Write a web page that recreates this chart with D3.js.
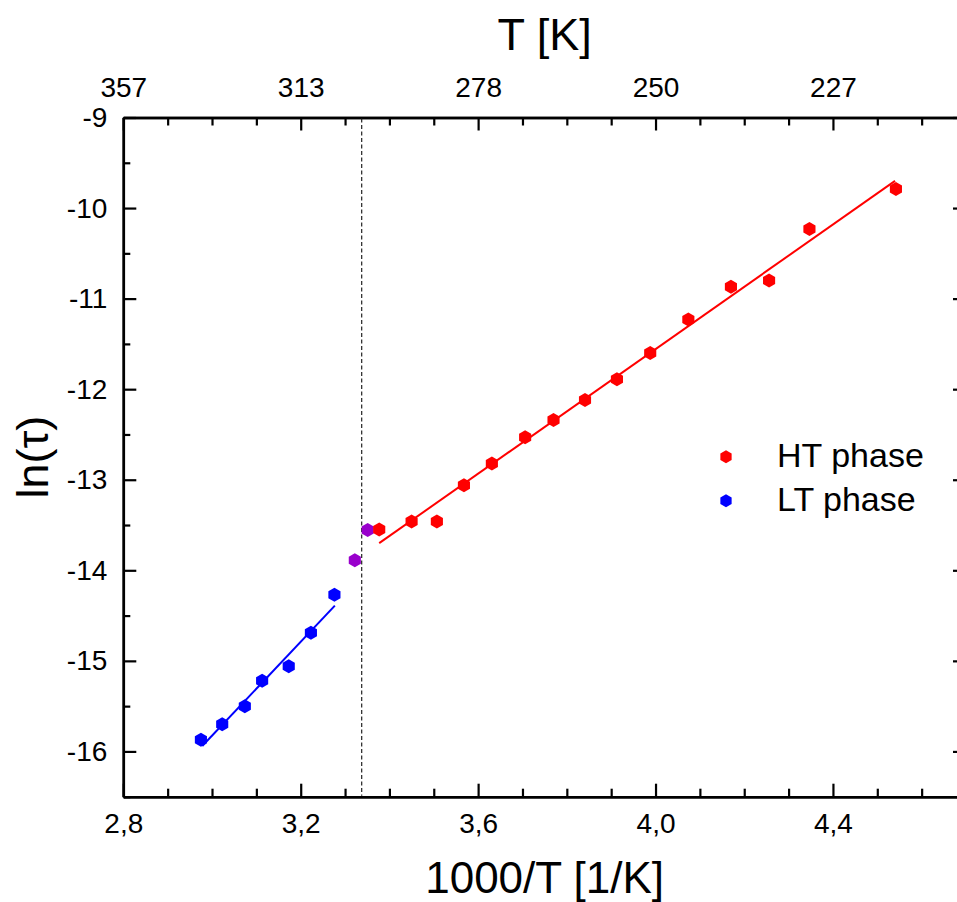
<!DOCTYPE html>
<html>
<head>
<meta charset="utf-8">
<script src="https://cdn.jsdelivr.net/npm/d3@7"></script>
<style>
  html, body { margin: 0; padding: 0; background: #fff; }
  svg { display: block; font-family: "Liberation Sans", Arial, sans-serif; }
</style>
</head>
<body>
<svg id="chart" width="957" height="902"></svg>
<script>
// Relaxation time vs inverse temperature (Arrhenius plot)
const htX = [3.377, 3.450, 3.507, 3.568, 3.631, 3.706, 3.770, 3.841, 3.913, 3.988, 4.074, 4.170, 4.256, 4.347, 4.542];
const htY = [-13.55, -13.46, -13.46, -13.06, -12.82, -12.53, -12.34, -12.12, -11.89, -11.60, -11.23, -10.87, -10.80, -10.23, -9.79];
const ltX = [2.975, 3.023, 3.074, 3.113, 3.173, 3.223, 3.276];
const ltY = [-15.87, -15.70, -15.50, -15.22, -15.06, -14.69, -14.27];
const midX = [3.322, 3.351];
const midY = [-13.89, -13.555];

// Linear (Arrhenius) fits, endpoints
const htFitX = [3.377, 4.540];
const htFitY = [-13.70, -9.70];
const ltFitX = [2.978, 3.277];
const ltFitY = [-15.94, -14.39];

// Phase transition position
const transitionX = [3.3375];

// Axis ticks
const bottomTicks = [2.8, 3.2, 3.6, 4.0, 4.4];
const topTickLabels = ["357", "313", "278", "250", "227"];
const leftTicks = [-9, -10, -11, -12, -13, -14, -15, -16];

const legendLabels = ["HT phase", "LT phase"];
const colors = { ht: "#ff0000", lt: "#0000ff", mid: "#9900cc" };

const svg = d3.select("#chart");
const plotL = 123.3, plotR = 966, plotT = 117.5, plotB = 796.7;

const x = d3.scaleLinear().domain([2.8, 4.7]).range([plotL, plotR]);
const y = d3.scaleLinear().domain([-16.5, -9]).range([plotB, plotT]);

const fmtComma = v => d3.format(".1f")(v).replace(".", ",");
const minorX = d3.range(28, 48).map(v => v / 10).filter(v => !bottomTicks.some(t => Math.abs(t - v) < 1e-9));
const minorY = d3.range(-16.5, -9, 1);

// Axis frame
function drawAxis(gen, transform, cls) {
  const g = svg.append("g").attr("class", cls).attr("transform", transform).call(gen);
  g.attr("font-size", 28).attr("font-family", "'Liberation Sans', Arial, sans-serif");
  g.select(".domain").attr("stroke", "#000").attr("stroke-width", 2.5);
  g.selectAll(".tick line").attr("stroke", "#000").attr("stroke-width", 2.2);
  g.selectAll("text").attr("fill", "#000").style("font-size", "28px");
  return g;
}

// bottom
drawAxis(d3.axisBottom(x).tickValues(bottomTicks).tickFormat(fmtComma).tickSizeInner(-13).tickSizeOuter(0).tickPadding(16),
  `translate(0,${plotB})`, "x-bottom");
drawAxis(d3.axisBottom(x).tickValues(minorX).tickFormat("").tickSizeInner(-8).tickSizeOuter(0),
  `translate(0,${plotB})`, "x-bottom-minor");
// top
drawAxis(d3.axisTop(x).tickValues(bottomTicks).tickFormat((d, i) => topTickLabels[i]).tickSizeInner(-13).tickSizeOuter(0).tickPadding(21),
  `translate(0,${plotT})`, "x-top");
drawAxis(d3.axisTop(x).tickValues(minorX).tickFormat("").tickSizeInner(-8).tickSizeOuter(0),
  `translate(0,${plotT})`, "x-top-minor");
// left
drawAxis(d3.axisLeft(y).tickValues(leftTicks).tickFormat(d => String(d)).tickSizeInner(-13).tickSizeOuter(0).tickPadding(16),
  `translate(${plotL},0)`, "y-left");
drawAxis(d3.axisLeft(y).tickValues(minorY).tickFormat("").tickSizeInner(-7).tickSizeOuter(0),
  `translate(${plotL},0)`, "y-left-minor");
// right
drawAxis(d3.axisRight(y).tickValues(leftTicks).tickFormat("").tickSizeInner(-13).tickSizeOuter(0),
  `translate(${plotR},0)`, "y-right");
drawAxis(d3.axisRight(y).tickValues(minorY).tickFormat("").tickSizeInner(-7).tickSizeOuter(0),
  `translate(${plotR},0)`, "y-right-minor");

// Axis titles
svg.append("text").attr("x", (plotL + plotR) / 2).attr("y", 50)
  .attr("text-anchor", "middle").attr("font-size", 45).text("T [K]");
svg.append("text").attr("x", (plotL + plotR) / 2).attr("y", 893)
  .attr("text-anchor", "middle").attr("font-size", 44).text("1000/T [1/K]");
svg.append("text").attr("transform", `translate(48,${(plotT + plotB) / 2}) rotate(-90)`)
  .attr("text-anchor", "middle").attr("font-size", 45).text("ln(τ)");

// Transition marker
svg.selectAll(".transition").data(transitionX).join("line")
  .attr("class", "transition")
  .attr("x1", d => x(d)).attr("x2", d => x(d))
  .attr("y1", plotT + 1).attr("y2", plotB - 1)
  .attr("stroke", "#222").attr("stroke-width", 1.2).attr("stroke-dasharray", "4,2.5");

// Fit lines
const line = d3.line().x(d => x(d[0])).y(d => y(d[1]));
svg.append("path").datum(d3.zip(htFitX, htFitY)).attr("d", line)
  .attr("fill", "none").attr("stroke", colors.ht).attr("stroke-width", 2);
svg.append("path").datum(d3.zip(ltFitX, ltFitY)).attr("d", line)
  .attr("fill", "none").attr("stroke", colors.lt).attr("stroke-width", 2);

// Pointy-top hexagon marker
function hexPath(r) {
  const pts = d3.range(6).map(i => {
    const a = Math.PI / 3 * i - Math.PI / 2;
    return [r * Math.cos(a), r * Math.sin(a)];
  });
  return "M" + pts.map(p => p.join(",")).join("L") + "Z";
}

function drawPoints(xs, ys, color, cls) {
  svg.selectAll("." + cls).data(d3.zip(xs, ys)).join("path")
    .attr("class", cls)
    .attr("transform", d => `translate(${x(d[0])},${y(d[1])})`)
    .attr("d", hexPath(7))
    .attr("fill", color);
}
drawPoints(ltX, ltY, colors.lt, "lt");
drawPoints(midX, midY, colors.mid, "mid");
drawPoints(htX, htY, colors.ht, "ht");

// Legend
const legend = svg.append("g").attr("transform", "translate(726,456.7)");
legendLabels.forEach((lab, i) => {
  const g = legend.append("g").attr("transform", `translate(0,${i * 44})`);
  g.append("path").attr("d", hexPath(6.5)).attr("fill", i === 0 ? colors.ht : colors.lt);
  g.append("text").attr("x", 51).attr("y", 10).attr("font-size", 34).text(lab);
});
</script>
</body>
</html>
